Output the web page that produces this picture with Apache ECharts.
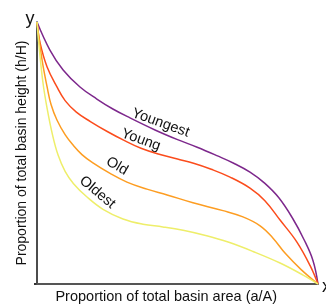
<!DOCTYPE html>
<html><head><meta charset="utf-8">
<script src="https://cdn.jsdelivr.net/npm/echarts@6/dist/echarts.min.js"></script>
<style>html,body{margin:0;padding:0;background:#fff}#c{width:326px;height:304px}</style>
</head><body><div id="c"></div>
<script>
const seriesNames = ['Youngest', 'Young', 'Old', 'Oldest'];
const youngest = [[0,1],[0.046,0.893],[0.093,0.817],[0.153,0.752],[0.213,0.706],[0.270,0.668],[0.331,0.634],[0.420,0.588],[0.498,0.552],[0.570,0.522],[0.640,0.490],[0.700,0.461],[0.758,0.427],[0.810,0.385],[0.860,0.330],[0.910,0.250],[0.950,0.170],[0.982,0.090],[1,0]];
const young = [[0,1],[0.011,0.920],[0.036,0.828],[0.071,0.752],[0.100,0.700],[0.140,0.656],[0.190,0.620],[0.250,0.582],[0.310,0.548],[0.370,0.518],[0.438,0.494],[0.500,0.477],[0.560,0.460],[0.620,0.438],[0.687,0.408],[0.758,0.366],[0.811,0.318],[0.865,0.244],[0.925,0.160],[0.972,0.070],[1,0]];
const old = [[0,1],[0.018,0.855],[0.036,0.752],[0.050,0.685],[0.071,0.626],[0.100,0.570],[0.130,0.528],[0.160,0.494],[0.199,0.462],[0.260,0.422],[0.320,0.389],[0.391,0.362],[0.463,0.340],[0.555,0.310],[0.662,0.280],[0.733,0.256],[0.794,0.222],[0.840,0.175],[0.885,0.115],[0.940,0.055],[1,0]];
const oldest = [[0,1],[0.008,0.900],[0.021,0.770],[0.036,0.670],[0.055,0.570],[0.075,0.492],[0.100,0.430],[0.130,0.383],[0.178,0.332],[0.235,0.285],[0.306,0.248],[0.377,0.228],[0.448,0.218],[0.520,0.205],[0.600,0.185],[0.680,0.160],[0.769,0.124],[0.865,0.080],[0.947,0.034],[1,0]];
const xTitle = 'Proportion of total basin area (a/A)';
const yTitle = 'Proportion of total basin height (h/H)';

const colors = ['#7d288c', '#fb4c1c', '#fd9d22', '#eeee6a'];
const allData = [youngest, young, old, oldest];
const FONT = 'Liberation Sans, Arial, sans-serif';

const chart = echarts.init(document.getElementById('c'), null, {renderer: 'canvas'});
chart.setOption({
  animation: false,
  grid: {left: 37, right: 8, top: 22, bottom: 20, containLabel: false, outerBoundsMode: 'none'},
  xAxis: {type: 'value', min: 0, max: 1, splitLine: {show: false},
    axisTick: {show: false}, axisLabel: {show: false},
    axisLine: {show: true, lineStyle: {color: '#555', width: 2}}},
  yAxis: {type: 'value', min: 0, max: 1, splitLine: {show: false},
    axisTick: {show: false}, axisLabel: {show: false},
    axisLine: {show: true, lineStyle: {color: '#111', width: 1.5}},
    name: yTitle, nameLocation: 'middle', nameGap: 8,
    nameTextStyle: {fontFamily: FONT, fontSize: 14, color: '#111'}},
  series: allData.map((d, i) => ({
    name: seriesNames[i], type: 'line', data: d, smooth: 0.4, showSymbol: false,
    lineStyle: {color: colors[i], width: 1.5}, z: 3
  }))
});

const labelAnchors = [[0.44, 0.615, -20], [0.37, 0.55, -20], [0.285, 0.45, -30], [0.215, 0.35, -40]];
const g = labelAnchors.map((a, i) => {
  const p = chart.convertToPixel({gridIndex: 0}, [a[0], a[1]]);
  return {type: 'text', x: p[0], y: p[1], rotation: a[2] * Math.PI / 180,
    style: {text: seriesNames[i], font: '14.5px ' + FONT, fill: '#111', align: 'center', verticalAlign: 'middle'}};
});
const pOrigin = chart.convertToPixel({gridIndex: 0}, [0, 0]);
const pTop = chart.convertToPixel({gridIndex: 0}, [0, 1]);
const pRight = chart.convertToPixel({gridIndex: 0}, [1, 0]);
const pXT = chart.convertToPixel({gridIndex: 0}, [0.46, 0]);
g.push({type: 'text', x: pXT[0], y: pXT[1] + 13, style: {text: xTitle, font: '14.5px ' + FONT, fill: '#111', align: 'center', verticalAlign: 'middle'}});
g.push({type: 'text', x: pTop[0] - 7, y: pTop[1] - 3, style: {text: 'y', font: '18px ' + FONT, fill: '#111', align: 'center', verticalAlign: 'middle'}});
g.push({type: 'text', x: pRight[0] + 4, y: pRight[1] + 3, style: {text: 'x', font: '18px ' + FONT, fill: '#111', align: 'left', verticalAlign: 'middle'}});
g.push({type: 'line', shape: {x1: pOrigin[0] - 3, y1: pOrigin[1], x2: pOrigin[0], y2: pOrigin[1]}, style: {stroke: '#333', lineWidth: 2}});
chart.setOption({graphic: g});
</script></body></html>
